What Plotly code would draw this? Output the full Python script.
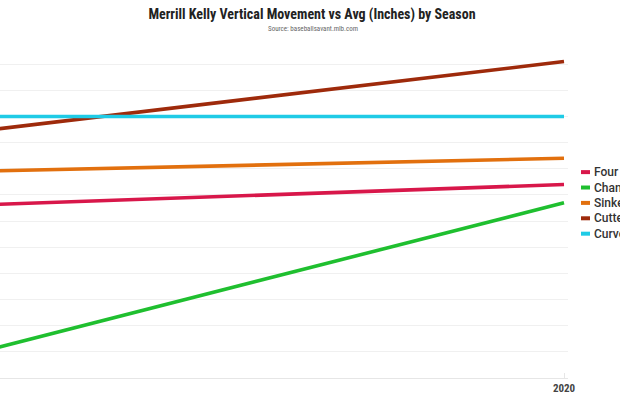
import plotly.graph_objects as go

# Merrill Kelly, vertical movement vs league average (inches)
seasons = [2019, 2020]
pitch_names = ["Four Seam", "Changeup", "Sinker", "Cutter", "Curveball"]
four_seam = [-3.4, -2.6]
changeup = [-9.1, -3.3]
sinker = [-2.1, -1.6]
cutter = [-0.6, 2.1]
curveball = [0.0, 0.0]

colors = ["#D8174A", "#1FBF2F", "#E2700E", "#9E2A0B", "#1FCBE6"]
series = [four_seam, changeup, sinker, cutter, curveball]

W, H = 620, 406
plot_l, plot_r = 0, 568
plot_t, plot_b = 37.5, 377.7
cond = "Roboto Condensed, Liberation Sans Narrow, DejaVu Sans Condensed, Roboto"

fig = go.Figure()
# draw order: cutter under curveball like the original
for idx in [1, 0, 2, 3, 4]:
    fig.add_trace(go.Scatter(
        x=seasons,
        y=series[idx],
        mode="lines",
        name=pitch_names[idx],
        line=dict(color=colors[idx], width=3.6),
        showlegend=False,
        cliponaxis=True,
    ))

# hand-made legend (short swatches, text right next to them)
shapes, annotations = [], []
pw = plot_r - plot_l
ph = plot_b - plot_t
for i, (name, col) in enumerate(zip(pitch_names, colors)):
    py = 171.7 + i * 15.4
    yp = (plot_b - py) / ph
    shapes.append(dict(type="line", xref="paper", yref="paper",
                       x0=581 / pw, x1=590 / pw, y0=yp, y1=yp,
                       line=dict(color=col, width=4)))
    annotations.append(dict(text=name, xref="paper", yref="paper",
                            x=592 / pw, y=yp, xanchor="left", yanchor="middle",
                            showarrow=False,
                            font=dict(family="Roboto", size=12, color="#333333", weight=500)))

annotations.append(dict(text="Source: baseballsavant.mlb.com", xref="paper", yref="paper",
                        x=313 / pw, y=(plot_b - 28) / ph, xanchor="center", yanchor="middle",
                        showarrow=False, font=dict(family=cond, size=7, color="#666666")))

fig.update_layout(
    width=W, height=H,
    margin=dict(l=plot_l, r=W - plot_r, t=plot_t, b=H - plot_b, autoexpand=False),
    paper_bgcolor="white",
    plot_bgcolor="white",
    title=dict(text="Merrill Kelly Vertical Movement vs Avg (Inches) by Season",
               x=312 / W, xanchor="center", y=1 - 14 / H, yanchor="middle",
               yref="container", xref="container",
               font=dict(family=cond, size=14, color="#222222", weight="bold")),
    xaxis=dict(range=[2019 + 30 / 594, 2020 + 4 / 594], tickvals=seasons,
               ticktext=[str(s) for s in seasons], showgrid=False, zeroline=False,
               showline=True, linecolor="#e6e6e6", linewidth=1,
               ticks="inside", ticklen=5, tickcolor="#e6e6e6",
               tickfont=dict(family=cond, size=11, color="#444444", weight="bold")),
    yaxis=dict(range=[-10, 3], dtick=1, showticklabels=False, zeroline=False,
               showgrid=True, gridcolor="#f0f0f0", gridwidth=1),
    shapes=shapes,
    annotations=annotations,
    showlegend=False,
)

# the page's default body margin would push the figure 8px right and down
fig.write_html("out.html", config={"displayModeBar": False},
               post_script="document.body.style.margin='0';")
